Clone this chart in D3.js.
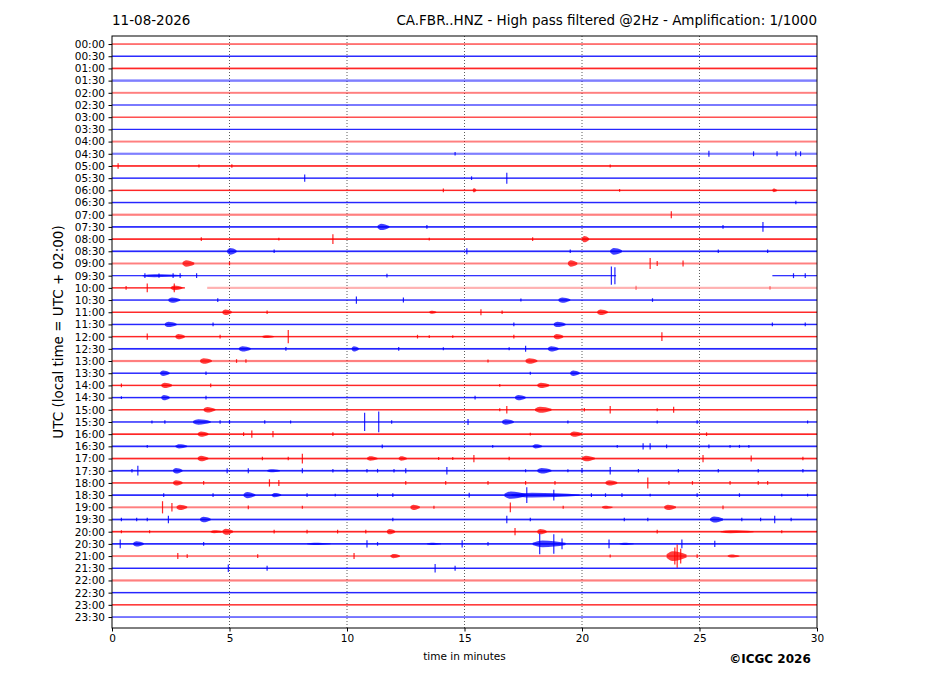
<!DOCTYPE html>
<html>
<head>
<meta charset="utf-8">
<script src="https://cdn.jsdelivr.net/npm/d3@7"></script>
<style>
  body { margin: 0; background: #fff; }
  text { font-family: "DejaVu Sans", sans-serif; }
</style>
</head>
<body>
<div id="chart"></div>
<script>
// Helicorder - one trace every 30 minutes, 30 minutes per line
const dateLabel = "11-08-2026";
const titleLabel = "CA.FBR..HNZ - High pass filtered @2Hz - Amplification: 1/1000";
const yAxisLabel = "UTC (local time = UTC + 02:00)";
const xAxisLabel = "time in minutes";
const creditLabel = "\u00a9ICGC 2026";

const rowLabels = [];
for (let h = 0; h < 24; h++) {
  const hh = (h < 10 ? "0" : "") + h;
  rowLabels.push(hh + ":00", hh + ":30");
}
const xTicks = [0, 5, 10, 15, 20, 25, 30];
const traceColors = ["red", "blue"];

// background noise level of each trace (in trace spacing units)
const traceNoise = [0.05, 0.06, 0.07, 0.1, 0.08, 0.05, 0.05, 0.05, 0.08, 0.09,
  0.07, 0.06, 0.06, 0.06, 0.09, 0.07, 0.07, 0.07, 0.08, 0.05,
  0.06, 0.06, 0.06, 0.06, 0.06, 0.07, 0.09, 0.06, 0.06, 0.06,
  0.06, 0.06, 0.07, 0.07, 0.07, 0.07, 0.06, 0.07, 0.08, 0.07,
  0.07, 0.07, 0.08, 0.06, 0.09, 0.06, 0.06, 0.05];

// missing data: [row, from minute, to minute]
const dataGaps = [[19, 21.45, 28.1], [20, 3.1, 4.05]];
// partial (pale) data: [row, from minute, to minute]
const paleSpans = [[20, 4.05, 30]];

// signal events per trace: [start minute, end minute, half amplitude]
const events = [
  [], [], [], [], [], [], [], [], [],
  [[14.6,14.6,0.15],[25.4,25.4,0.25],[27.3,27.3,0.2],[28.3,28.3,0.2],[29.1,29.1,0.2],[29.3,29.3,0.2]],
  [[0.26,0.26,0.22],[3.7,3.7,0.12],[5.1,5.1,0.15],[21.2,21.2,0.12]],
  [[8.2,8.2,0.3],[15.3,15.3,0.15],[16.8,16.8,0.45]],
  [[14.1,14.1,0.15],[15.35,15.5,0.18],[21.6,21.6,0.12],[28.1,28.3,0.15]],
  [[29.1,29.1,0.15]],
  [[23.8,23.8,0.28]],
  [[11.3,11.8,0.26],[13.4,13.4,0.15],[26.0,26.0,0.15],[27.7,27.7,0.4]],
  [[3.8,3.8,0.15],[7.1,7.1,0.12],[9.4,9.4,0.4],[13.5,13.5,0.12],[17.9,17.9,0.15],[20.0,20.3,0.26]],
  [[4.9,5.3,0.28],[6.9,6.9,0.15],[15.1,15.1,0.25],[19.5,19.5,0.15],[21.2,21.7,0.28],[25.8,25.8,0.15],[27.9,27.9,0.15]],
  [[3.0,3.5,0.26],[5.0,5.0,0.15],[19.4,19.8,0.26],[22.9,22.9,0.45],[23.2,23.2,0.2],[24.3,24.3,0.25]],
  [[1.3,3.0,0.12],[1.4,1.4,0.2],[2.0,2.0,0.18],[2.6,2.6,0.2],[2.9,2.9,0.2],[3.6,3.6,0.2],[11.7,11.7,0.15],[21.25,21.25,0.75],[21.4,21.4,0.7],[29.0,29.0,0.2],[29.5,29.5,0.2]],
  [[0.6,0.6,0.15],[1.5,1.5,0.35],[2.5,3.0,0.2],[2.65,2.65,0.35],[22.3,22.3,0.18],[28.0,28.0,0.15]],
  [[2.4,2.9,0.22],[4.5,4.5,0.15],[10.4,10.4,0.3],[12.4,12.4,0.2],[17.4,17.4,0.12],[19.0,19.5,0.22],[23.0,23.0,0.15]],
  [[4.7,5.1,0.22],[6.6,6.6,0.15],[13.5,13.8,0.12],[15.7,15.7,0.25],[16.6,16.6,0.15],[20.65,21.1,0.22]],
  [[2.25,2.75,0.22],[4.3,4.3,0.15],[17.1,17.1,0.15],[18.8,19.3,0.22],[28.1,28.1,0.15],[29.5,29.5,0.15]],
  [[1.5,1.5,0.25],[2.7,3.1,0.22],[4.6,4.6,0.15],[6.4,6.9,0.12],[7.5,7.5,0.55],[13.0,13.0,0.15],[13.5,13.5,0.12],[14.5,14.5,0.12],[17.1,17.1,0.15],[18.8,19.2,0.22],[23.4,23.4,0.35]],
  [[5.4,5.9,0.22],[7.4,7.4,0.15],[10.2,10.5,0.22],[12.2,12.2,0.15],[14.1,14.1,0.12],[16.9,16.9,0.12],[17.6,17.6,0.25],[18.55,19.0,0.22]],
  [[3.75,4.25,0.22],[5.3,5.3,0.15],[5.7,5.7,0.15],[16.0,16.0,0.12],[17.6,18.1,0.22]],
  [[2.05,2.45,0.22],[4.0,4.0,0.15],[17.8,17.8,0.12],[19.5,19.9,0.22]],
  [[0.4,0.4,0.15],[2.1,2.55,0.22],[4.2,4.2,0.15],[16.5,16.5,0.12],[18.1,18.6,0.22]],
  [[0.4,0.4,0.12],[2.1,2.45,0.22],[4.0,4.0,0.15],[15.45,15.45,0.15],[17.15,17.6,0.22]],
  [[3.9,4.4,0.22],[16.5,16.5,0.12],[16.8,16.8,0.3],[18.0,18.7,0.25],[20.1,20.1,0.15],[21.2,21.2,0.3],[23.2,23.2,0.12],[23.9,23.9,0.25]],
  [[1.7,1.7,0.12],[2.25,2.25,0.15],[3.45,4.2,0.22],[4.6,4.6,0.15],[5.0,5.0,0.15],[6.5,6.5,0.15],[7.6,7.6,0.12],[10.75,10.75,0.75],[11.35,11.35,0.85],[11.9,11.9,0.15],[15.15,15.15,0.25],[16.6,17.1,0.22],[19.4,19.4,0.12],[23.2,23.2,0.12],[24.9,24.9,0.15],[29.6,29.6,0.12]],
  [[3.65,4.1,0.22],[5.6,5.6,0.15],[5.95,5.95,0.3],[6.85,6.85,0.25],[9.4,9.4,0.15],[17.8,17.8,0.12],[19.5,20.0,0.22],[25.3,25.3,0.15]],
  [[1.5,1.5,0.12],[2.7,3.2,0.18],[11.5,11.5,0.15],[16.2,16.2,0.12],[17.9,18.3,0.18],[21.5,21.5,0.12],[22.6,22.6,0.25],[22.9,22.9,0.25],[23.6,23.6,0.15],[25.4,25.4,0.15],[26.3,26.3,0.12],[26.7,26.7,0.12],[27.1,27.1,0.12]],
  [[3.65,4.1,0.22],[6.4,6.4,0.15],[7.5,7.5,0.15],[8.1,8.1,0.4],[10.85,11.3,0.18],[12.2,12.55,0.18],[13.9,13.9,0.12],[14.5,14.5,0.12],[15.4,15.4,0.3],[16.9,16.9,0.15],[20.0,20.55,0.22],[25.15,25.15,0.3],[27.2,27.2,0.25],[29.4,29.4,0.15]],
  [[0.85,0.85,0.15],[1.1,1.1,0.4],[2.6,3.0,0.22],[4.9,4.9,0.2],[5.8,5.8,0.2],[6.6,7.15,0.12],[8.1,8.1,0.2],[9.4,9.4,0.15],[10.0,10.0,0.15],[10.85,10.85,0.15],[11.3,11.3,0.15],[12.0,12.0,0.15],[12.5,12.5,0.2],[14.25,14.25,0.3],[17.6,17.6,0.12],[18.1,18.7,0.22],[19.4,19.4,0.12],[20.0,20.0,0.2],[21.2,21.2,0.3],[22.4,22.4,0.15],[24.1,24.1,0.15],[25.8,25.8,0.15],[27.5,27.5,0.15],[29.4,29.4,0.15]],
  [[2.6,3.0,0.22],[3.9,3.9,0.15],[6.7,6.7,0.3],[7.1,7.1,0.25],[12.5,12.5,0.15],[14.2,14.2,0.15],[16.0,16.0,0.15],[17.6,17.6,0.15],[18.85,18.85,0.15],[21.0,21.5,0.22],[22.8,22.8,0.45],[23.7,23.7,0.15],[24.7,24.7,0.15],[26.3,26.3,0.15],[27.5,27.5,0.15],[27.9,27.9,0.15]],
  [[2.2,2.2,0.15],[4.3,4.3,0.15],[5.6,6.1,0.25],[6.8,7.2,0.18],[8.3,8.3,0.15],[9.5,9.5,0.12],[11.3,11.3,0.15],[11.95,11.95,0.15],[15.2,15.2,0.2],[16.7,17.6,0.3],[17.0,19.9,0.2],[17.65,17.65,0.65],[18.8,18.8,0.45],[20.4,20.4,0.15],[21.0,21.0,0.15],[21.7,21.7,0.15],[22.9,22.9,0.12],[24.9,24.9,0.15],[26.7,26.7,0.15],[28.5,28.5,0.12],[29.6,29.6,0.12]],
  [[2.15,2.15,0.5],[2.55,2.55,0.35],[2.75,3.2,0.22],[5.8,5.8,0.15],[8.1,8.1,0.12],[12.7,13.1,0.22],[13.7,13.7,0.12],[16.95,16.95,0.4],[19.2,19.2,0.12],[20.85,21.3,0.12],[23.5,24.0,0.22],[26.0,26.0,0.15]],
  [[0.4,0.4,0.15],[1.05,1.05,0.15],[1.5,1.5,0.15],[2.4,2.4,0.3],[3.75,4.2,0.22],[11.95,11.95,0.15],[16.8,16.8,0.3],[17.8,17.8,0.15],[21.8,21.8,0.15],[22.8,22.8,0.15],[25.45,26.0,0.25],[26.8,26.8,0.15],[27.6,27.6,0.15],[28.2,28.2,0.3],[28.9,28.9,0.15]],
  [[0.4,0.4,0.12],[1.6,1.6,0.12],[4.2,4.7,0.12],[4.7,5.15,0.25],[6.9,6.9,0.15],[8.3,8.3,0.15],[9.6,9.6,0.15],[10.8,10.8,0.15],[11.7,12.05,0.22],[17.15,17.15,0.3],[18.1,18.5,0.22],[23.2,23.2,0.15],[25.9,27.3,0.12],[28.5,28.5,0.12]],
  [[0.35,0.35,0.35],[0.9,1.35,0.22],[3.9,3.9,0.15],[8.3,9.3,0.1],[10.85,10.85,0.3],[11.3,11.3,0.15],[13.4,14.0,0.1],[14.9,14.9,0.3],[16.0,16.0,0.15],[17.9,19.3,0.28],[18.2,18.2,0.85],[18.8,18.8,0.8],[19.15,19.15,0.45],[21.15,21.15,0.35],[21.6,22.2,0.1],[24.25,24.25,0.35],[25.65,25.65,0.25]],
  [[2.8,2.8,0.25],[3.2,3.2,0.15],[6.2,6.2,0.15],[10.3,10.3,0.25],[11.85,12.25,0.18],[21.2,21.2,0.12],[23.6,24.45,0.4],[23.95,23.95,0.7],[24.05,24.05,0.95],[24.2,24.2,0.6],[24.9,24.9,0.15],[26.2,26.7,0.12]],
  [[4.95,4.95,0.3],[6.6,6.6,0.2],[13.75,13.75,0.35],[14.6,14.6,0.2]],
  [], [], [], []
];

function createHelicorder(divName) {
  const W = 927, H = 696;
  const margin = {top: 36, right: 110, bottom: 68, left: 112};
  const width = W - margin.left - margin.right,
        height = H - margin.top - margin.bottom;

  const svg = d3.select(divName)
    .append("svg")
      .attr("width", W)
      .attr("height", H);
  const g = svg.append("g")
      .attr("transform", "translate(" + margin.left + "," + margin.top + ")");

  const x = d3.scaleLinear().domain([0, 30]).range([0, width]);
  const y = d3.scaleLinear().domain([-0.66, 47.9]).range([0, height]);
  const rowPx = y(1) - y(0);

  // grid
  g.selectAll(".grid")
    .data(xTicks.slice(1, -1))
    .enter().append("line")
      .attr("x1", d => x(d)).attr("x2", d => x(d))
      .attr("y1", 0).attr("y2", height)
      .attr("stroke", "#333")
      .attr("stroke-width", 0.8)
      .attr("stroke-dasharray", "1,2");

  rowLabels.forEach(function(label, i) {
    const color = traceColors[i % 2];
    // trace spans, with the data gaps removed
    let spans = [[0, 30, false]];
    dataGaps.filter(d => d[0] === i).forEach(function(gp) {
      spans = spans.flatMap(s => {
        if (gp[2] <= s[0] || gp[1] >= s[1]) return [s];
        const out = [];
        if (gp[1] > s[0]) out.push([s[0], gp[1], s[2]]);
        if (gp[2] < s[1]) out.push([gp[2], s[1], s[2]]);
        return out;
      });
    });
    paleSpans.filter(d => d[0] === i).forEach(function(p) {
      spans = spans.map(s => (s[0] >= p[1] && s[1] <= p[2]) ? [s[0], s[1], true] : s);
    });
    const noise = traceNoise[i];
    const baseOpacity = noise >= 0.08 ? 0.5 : 0.85;

    g.selectAll(".trace" + i)
      .data(spans)
      .enter().append("rect")
        .attr("x", d => x(d[0]))
        .attr("width", d => x(d[1]) - x(d[0]))
        .attr("y", d => d[2] ? y(i - 0.09) : y(i - noise))
        .attr("height", d => d[2] ? 0.18 * rowPx : Math.max(1, 2 * noise * rowPx))
        .attr("fill", color)
        .attr("opacity", d => d[2] ? 0.3 : baseOpacity);

    const inPale = m => paleSpans.some(p => p[0] === i && m >= p[1] && m <= p[2]);

    // bursts: a spindle-shaped envelope
    const envelope = d3.area()
      .x(p => x(p[0]))
      .y0(p => y(i - p[1]))
      .y1(p => y(i + p[1]))
      .curve(d3.curveMonotoneX);
    g.selectAll(".burst" + i)
      .data(events[i].filter(d => d[1] > d[0]))
      .enter().append("path")
        .attr("d", d => envelope([
          [d[0], d[2] * 0.35],
          [d[0] + (d[1] - d[0]) * 0.3, d[2]],
          [d[0] + (d[1] - d[0]) * 0.65, d[2] * 0.8],
          [d[1], d[2] * 0.3]]))
        .attr("fill", color)
        .attr("opacity", 0.75);

    // single spikes
    g.selectAll(".spike" + i)
      .data(events[i].filter(d => d[1] === d[0]))
      .enter().append("line")
        .attr("x1", d => x(d[0])).attr("x2", d => x(d[0]))
        .attr("y1", d => y(i - d[2]))
        .attr("y2", d => y(i + d[2]))
        .attr("stroke", color)
        .attr("stroke-width", 1.2)
        .attr("opacity", d => inPale(d[0]) ? 0.5 : 0.85);
  });

  // frame
  g.append("rect")
    .attr("width", width).attr("height", height)
    .attr("fill", "none").attr("stroke", "#000").attr("stroke-width", 1);

  // y axis
  const yAxis = g.append("g")
    .call(d3.axisLeft(y)
      .tickValues(d3.range(rowLabels.length))
      .tickFormat(i => rowLabels[i])
      .tickSize(3.5).tickPadding(3.5));
  yAxis.select(".domain").remove();
  yAxis.selectAll("text").style("font-size", "10.5px").attr("fill", "#000").style("font-family", "DejaVu Sans");

  // x axis
  const xAxis = g.append("g")
    .attr("transform", "translate(0," + height + ")")
    .call(d3.axisBottom(x).tickValues(xTicks).tickSize(3.5).tickPadding(3.5));
  xAxis.select(".domain").remove();
  xAxis.selectAll("text").style("font-size", "10.5px").attr("fill", "#000").style("font-family", "DejaVu Sans");

  // texts
  svg.append("text")
    .attr("x", margin.left).attr("y", 25)
    .style("font-size", "13.5px")
    .text(dateLabel);
  svg.append("text")
    .attr("x", margin.left + width).attr("y", 25)
    .attr("text-anchor", "end")
    .style("font-size", "13.5px")
    .text(titleLabel);
  svg.append("text")
    .attr("transform", "translate(58," + (margin.top + height / 2) + ")rotate(-90)")
    .attr("text-anchor", "middle")
    .attr("dy", "0.35em")
    .style("font-size", "13.5px")
    .text(yAxisLabel);
  svg.append("text")
    .attr("x", margin.left + width / 2).attr("y", 660)
    .attr("text-anchor", "middle")
    .style("font-size", "10.5px")
    .text(xAxisLabel);
  svg.append("text")
    .attr("x", 770).attr("y", 663)
    .attr("text-anchor", "middle")
    .style("font-size", "12px")
    .style("font-weight", "bold")
    .text(creditLabel);
}

createHelicorder("#chart");
</script>
</body>
</html>
